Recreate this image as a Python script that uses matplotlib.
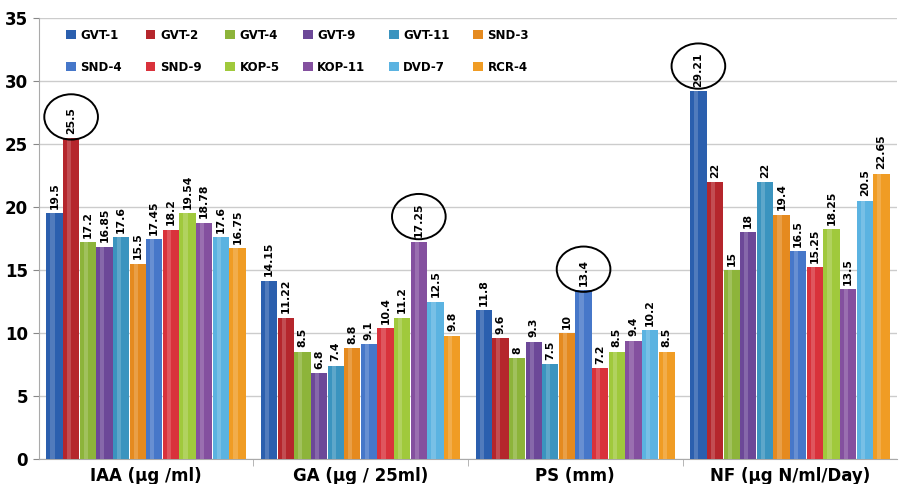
import numpy as np
import matplotlib.pyplot as plt
from matplotlib.patches import Ellipse

categories = ['IAA (\u00b5g /ml)', 'GA (\u00b5g / 25ml)', 'PS (mm)', 'NF (\u00b5g N/ml/Day)']
strains = ['GVT-1', 'GVT-2', 'GVT-4', 'GVT-9', 'GVT-11', 'SND-3',
           'SND-4', 'SND-9', 'KOP-5', 'KOP-11', 'DVD-7', 'RCR-4']
iaa = [19.5, 25.5, 17.2, 16.85, 17.6, 15.5, 17.45, 18.2, 19.54, 18.78, 17.6, 16.75]
ga = [14.15, 11.22, 8.5, 6.8, 7.4, 8.8, 9.1, 10.4, 11.2, 17.25, 12.5, 9.8]
ps = [11.8, 9.6, 8, 9.3, 7.5, 10, 13.4, 7.2, 8.5, 9.4, 10.2, 8.5]
nf = [29.21, 22, 15, 18, 22, 19.4, 16.5, 15.25, 18.25, 13.5, 20.5, 22.65]
# labels circled in the original (category index, strain index)
highlight = [(0, 1), (1, 9), (2, 6), (3, 0)]

colors = ['#2b5fae', '#b5262c', '#8db43a', '#6c4898', '#3b94bf', '#e58a1f',
          '#4677c9', '#d9323b', '#a0c93c', '#84509f', '#5bb3e1', '#f09c24']

data = np.array([iaa, ga, ps, nf])
n = len(strains)
group_w = 0.93
bw = group_w / n

fig = plt.figure(figsize=(8.99, 4.84), dpi=100)
ax = fig.add_axes([0.043, 0.052, 0.955, 0.91])

x = np.arange(len(categories))
handles = []
for j in range(n):
    xs = x - group_w / 2 + bw * (j + 0.5)
    h = ax.bar(xs, data[:, j], width=bw * 0.98, color=colors[j], label=strains[j],
               edgecolor='none', zorder=3)
    handles.append(h)
    # lighter highlight stripe for a rounded look
    ax.bar(xs - bw * 0.12, data[:, j], width=bw * 0.25, color='white', alpha=0.18,
           edgecolor='none', zorder=4)
    for i in range(len(categories)):
        v = data[i, j]
        ax.text(xs[i], v + 0.35, f'{v:g}', rotation=90, ha='center', va='bottom',
                fontsize=7.8, fontweight='bold', zorder=5)

for i, j in highlight:
    xc = x[i] - group_w / 2 + bw * (j + 0.5)
    v = data[i, j]
    nch = len(f'{v:g}')
    ax.add_patch(Ellipse((xc, v + 0.35 + nch * 0.33), 0.25, 3.6, fill=False,
                         edgecolor='black', lw=1.4, zorder=6))

ax.set_ylim(0, 35)
ax.set_xlim(-0.5, len(categories) - 0.5)
ax.set_yticks(range(0, 36, 5))
ax.tick_params(axis='y', labelsize=12, length=4, color='#888888')
for lab in ax.get_yticklabels():
    lab.set_fontweight('bold')
ax.set_xticks(x)
ax.set_xticklabels(categories, fontsize=12, fontweight='bold')
ax.tick_params(axis='x', length=0, pad=6)
ax.set_xticks(np.arange(0.5, len(categories) - 0.5), minor=True)
ax.tick_params(axis='x', which='minor', length=5, color='#aaaaaa')
ax.grid(axis='y', color='#cccccc', lw=1, zorder=0)
for s in ['top', 'right']:
    ax.spines[s].set_visible(False)
ax.spines['left'].set_color('#aaaaaa')
ax.spines['bottom'].set_color('#aaaaaa')

# legend filled row by row (two rows of six)
order = [k for pair in zip(range(6), range(6, 12)) for k in pair]
ax.legend([handles[k] for k in order], [strains[k] for k in order],
          ncol=6, loc='upper left', bbox_to_anchor=(0.02, 1.0), frameon=False,
          prop={'weight': 'bold', 'size': 8.5}, handlelength=0.8, handleheight=0.8,
          columnspacing=2.0, handletextpad=0.4, labelspacing=1.6)

fig.savefig('out.png', dpi=100)
